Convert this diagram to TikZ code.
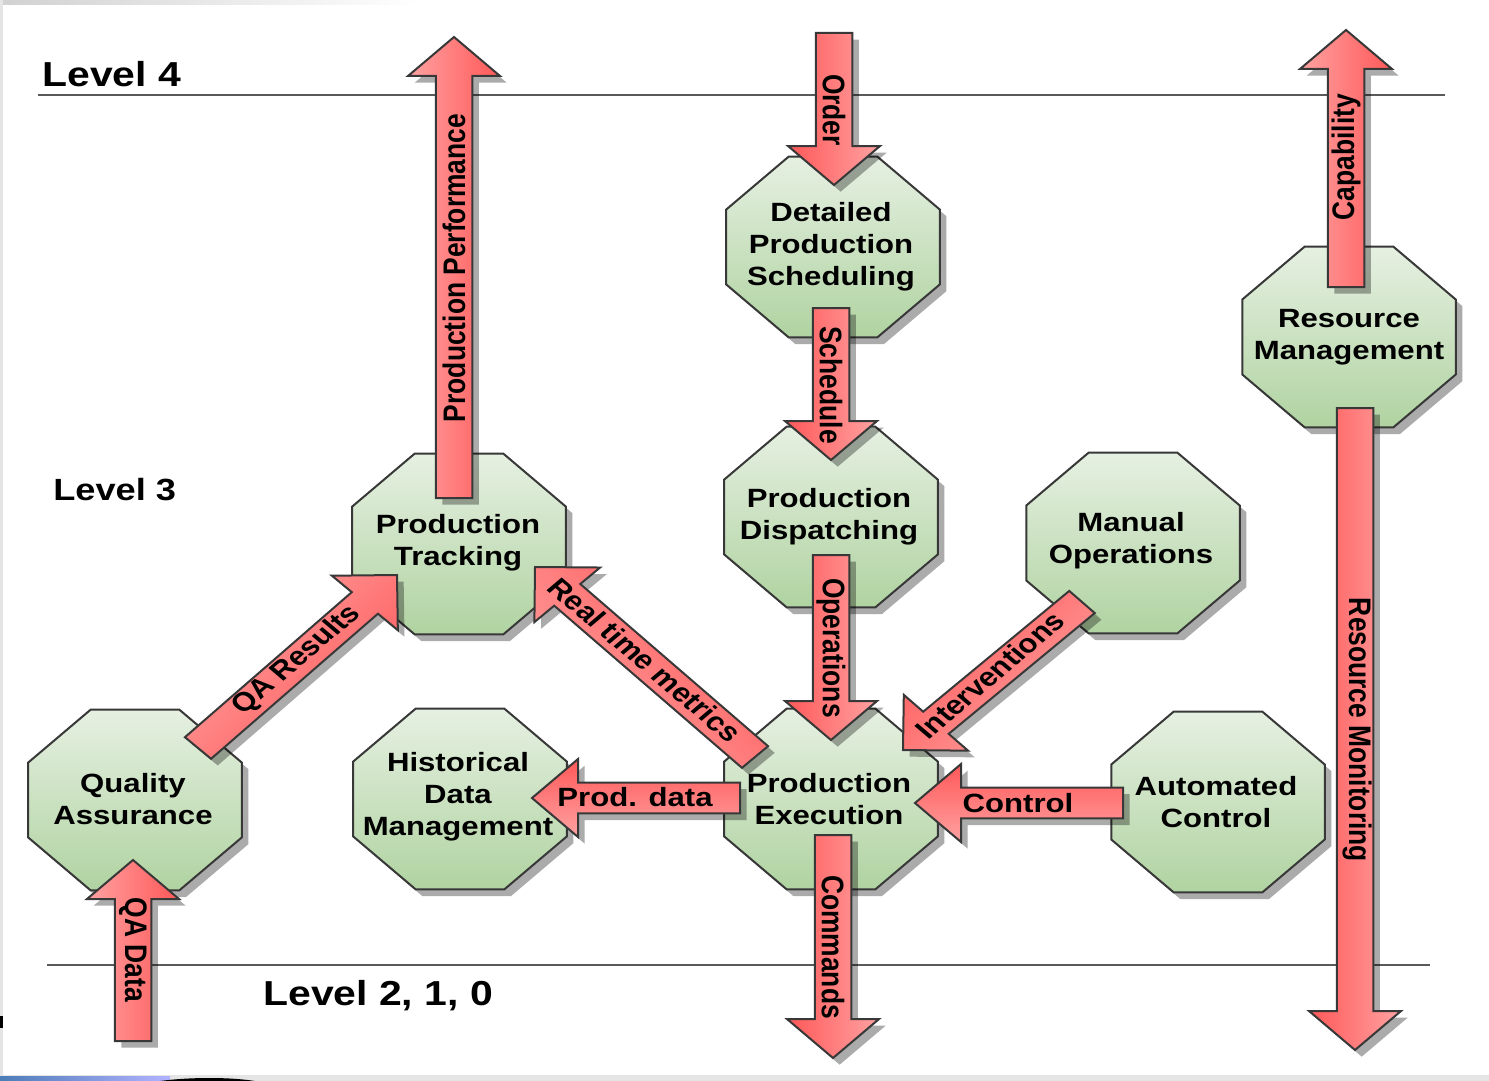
\documentclass[tikz,border=0pt]{standalone}
\usepackage{fontspec}
\setmainfont{Liberation Sans}
\usetikzlibrary{shapes.geometric,shadows}

\definecolor{octtop}{HTML}{E6F0E2}
\definecolor{octbot}{HTML}{B0D3A1}
\definecolor{arrlight}{HTML}{FFA2A2}
\definecolor{arrdark}{HTML}{FF5858}
\definecolor{edgegray}{HTML}{383838}
\definecolor{levelgray}{HTML}{5A5A5A}

% horizontal widening applied to every shape and text
\newcommand\hstretch{1.18}
\newcommand\labelfont{\bfseries\fontsize{19.8}{24}\selectfont}
% block arrow dimensions (pt, before widening)
\newcommand\shaftw{11.6}
\newcommand\headw{29.25}
\newcommand\headl{29.25}

% a corner of the current block arrow: name, distance along, offset to the left
\newcommand\arrpt[3]{%
  \pgfmathsetmacro\apx{\tailX+\hstretch*((#2)*\aux-(#3)*\auy)}%
  \pgfmathsetmacro\apy{\tailY+(#2)*\auy+(#3)*\aux}%
  \coordinate (#1) at (\apx pt,\apy pt);%
}
% block arrow from coordinate #1 (tail) to coordinate #2 (tip)
\newcommand\blockarrow[2]{%
  \pgfpointanchor{#1}{center}\pgfgetlastxy{\tailX}{\tailY}%
  \pgfpointanchor{#2}{center}\pgfgetlastxy{\tipX}{\tipY}%
  \pgfmathsetmacro\adx{(\tipX-\tailX)/\hstretch}%
  \pgfmathsetmacro\ady{\tipY-\tailY}%
  \pgfmathsetmacro\alen{veclen(\adx,\ady)}%
  \pgfmathsetmacro\aux{\adx/\alen}%
  \pgfmathsetmacro\auy{\ady/\alen}%
  \pgfmathsetmacro\ashade{atan2(\aux,-\auy)-90}%
  \arrpt{ar1}{0}{-\shaftw}%
  \arrpt{ar2}{\alen-\headl}{-\shaftw}%
  \arrpt{ar3}{\alen-\headl}{-\headw}%
  \arrpt{ar4}{\alen}{0}%
  \arrpt{ar5}{\alen-\headl}{\headw}%
  \arrpt{ar6}{\alen-\headl}{\shaftw}%
  \arrpt{ar7}{0}{\shaftw}%
  \path[flow,shading angle=\ashade] (ar1) -- (ar2) -- (ar3) -- (ar4) -- (ar5) -- (ar6) -- (ar7) -- cycle;%
}

\begin{document}
\begin{tikzpicture}[x=0.75pt,y=-0.75pt,
  softshadow/.style={drop shadow={shadow xshift=5pt,shadow yshift=-5pt,opacity=.33,fill=black}},
  octagon/.style={regular polygon,regular polygon sides=8,minimum size=146.9pt,inner sep=0pt,
    draw=edgegray,line width=1.5pt,top color=octtop,bottom color=octbot,softshadow,
    xscale=\hstretch},
  octtext/.style={align=center,font=\labelfont,text=black,inner sep=0pt,xscale=\hstretch},
  flow/.style={draw=edgegray,line width=1.5pt,line join=miter,top color=arrlight,bottom color=arrdark,softshadow},
  flowtext/.style={font=\labelfont,inner sep=0pt,xscale=\hstretch},
  level/.style={font=\bfseries\fontsize{26}{30}\selectfont,inner sep=0pt,xscale=\hstretch,anchor=base west},
  levelline/.style={draw=levelgray,line width=1.8pt}]

\useasboundingbox (0,0) rectangle (1489,1081);
\fill[white] (0,0) rectangle (1489,1081);

% window edges
\fill[left color=black!18,right color=white] (0,0) rectangle (420,5);
\fill[black!10] (0,0) rectangle (3,1075);
\fill[black!10] (0,1075) rectangle (1489,1081);
\fill[left color=blue!55!cyan!60!black!70,right color=blue!30!white] (0,1076) rectangle (170,1081);
\fill[black] (160,1081) .. controls (190,1077) and (230,1077) .. (255,1081) -- cycle;
\fill[black] (0,1016) rectangle (3,1028);

% level boundaries
\coordinate (l4a) at (38,95);   \coordinate (l4b) at (1445,95);
\coordinate (l2a) at (47,965);  \coordinate (l2b) at (1430,965);
\draw[levelline] (l4a) -- (l4b);
\draw[levelline] (l2a) -- (l2b);
\node[level] (lv4) at (42,87) {Level 4};
\node[level,font=\bfseries\fontsize{23}{27}\selectfont] (lv3) at (53,500) {Level 3};
\node[level] (lv2) at (263,1005) {Level 2, 1, 0};

% activities
\node[octagon] (dps) at (833,247) {};
\node[octagon] (rm)  at (1349,337) {};
\node[octagon] (pd)  at (831,517) {};
\node[octagon] (ptr) at (459,544) {};
\node[octagon] (mo)  at (1133,543) {};
\node[octagon] (qa)  at (135,800) {};
\node[octagon] (hdm) at (460,799) {};
\node[octagon] (pe)  at (831,799) {};
\node[octagon] (ac)  at (1218,802) {};

% arrow ends
\coordinate (order-s) at (834,33);    \coordinate (order-e) at (834,185);
\coordinate (sched-s) at (831,308);   \coordinate (sched-e) at (831,460);
\coordinate (oper-s)  at (831,555);   \coordinate (oper-e)  at (831,740);
\coordinate (cmd-s)   at (833,835);   \coordinate (cmd-e)   at (833,1058);
\coordinate (perf-s)  at (454,498);   \coordinate (perf-e)  at (454,37);
\coordinate (cap-s)   at (1346,287);  \coordinate (cap-e)   at (1346,30);
\coordinate (mon-s)   at (1355,408);  \coordinate (mon-e)   at (1355,1050);
\coordinate (qad-s)   at (133,1041);  \coordinate (qad-e)   at (133,860);
\coordinate (qar-s)   at (198,748);   \coordinate (qar-e)   at (397,575);
\coordinate (rtm-s)   at (755,757);   \coordinate (rtm-e)   at (535,567);
\coordinate (int-s)   at (1082,602);  \coordinate (int-e)   at (903,750);
\coordinate (prod-s)  at (740,798);   \coordinate (prod-e)  at (532,798);
\coordinate (ctl-s)   at (1123,803);  \coordinate (ctl-e)   at (915,803);

% information flows
\blockarrow{order-s}{order-e}
\blockarrow{sched-s}{sched-e}
\blockarrow{oper-s}{oper-e}
\blockarrow{cmd-s}{cmd-e}
\blockarrow{perf-s}{perf-e}
\blockarrow{cap-s}{cap-e}
\blockarrow{mon-s}{mon-e}
\blockarrow{qad-s}{qad-e}
\blockarrow{qar-s}{qar-e}
\blockarrow{rtm-s}{rtm-e}
\blockarrow{int-s}{int-e}
\blockarrow{prod-s}{prod-e}
\blockarrow{ctl-s}{ctl-e}

% activity names
\node[octtext] (dps-t) at (831,247) {Detailed\\Production\\Scheduling};
\node[octtext] (rm-t)  at (1349,337) {Resource\\Management};
\node[octtext] (pd-t)  at (829,517) {Production\\Dispatching};
\node[octtext] (ptr-t) at (458,543) {Production\\Tracking};
\node[octtext] (mo-t)  at (1131,541) {Manual\\Operations};
\node[octtext] (qa-t)  at (133,799) {Quality\\Assurance};
\node[octtext] (hdm-t) at (458,797) {Historical\\Data\\Management};
\node[octtext] (pe-t)  at (829,799) {Production\\Execution};
\node[octtext] (ac-t)  at (1216,802) {Automated\\Control};

% flow labels
\node[flowtext,rotate=-90] (t-order) at (834,110) {Order};
\node[flowtext,rotate=-90] (t-sched) at (831,385) {Schedule};
\node[flowtext,rotate=-90] (t-oper)  at (831,648) {Operations};
\node[flowtext,rotate=-90] (t-cmd)   at (833,947) {Commands};
\node[flowtext,rotate=90]  (t-perf)  at (454,268) {Production Performance};
\node[flowtext,rotate=90]  (t-cap)   at (1346,157) {Capability};
\node[flowtext,rotate=-90] (t-mon)   at (1357,730) {Resource Monitoring};
\node[flowtext,rotate=-90] (t-qad)   at (133,950) {QA Data};
\node[flowtext,rotate=45]  (t-qar)   at (297,660) {QA Results};
\node[flowtext,rotate=-45] (t-rtm)   at (645,660) {Real time metrics};
\node[flowtext,rotate=45]  (t-int)   at (990,675) {Interventions};
\node[flowtext]            (t-prod)  at (635,797) {Prod. data};
\node[flowtext]            (t-ctl)   at (1018,803) {Control};

\end{tikzpicture}
\end{document}
